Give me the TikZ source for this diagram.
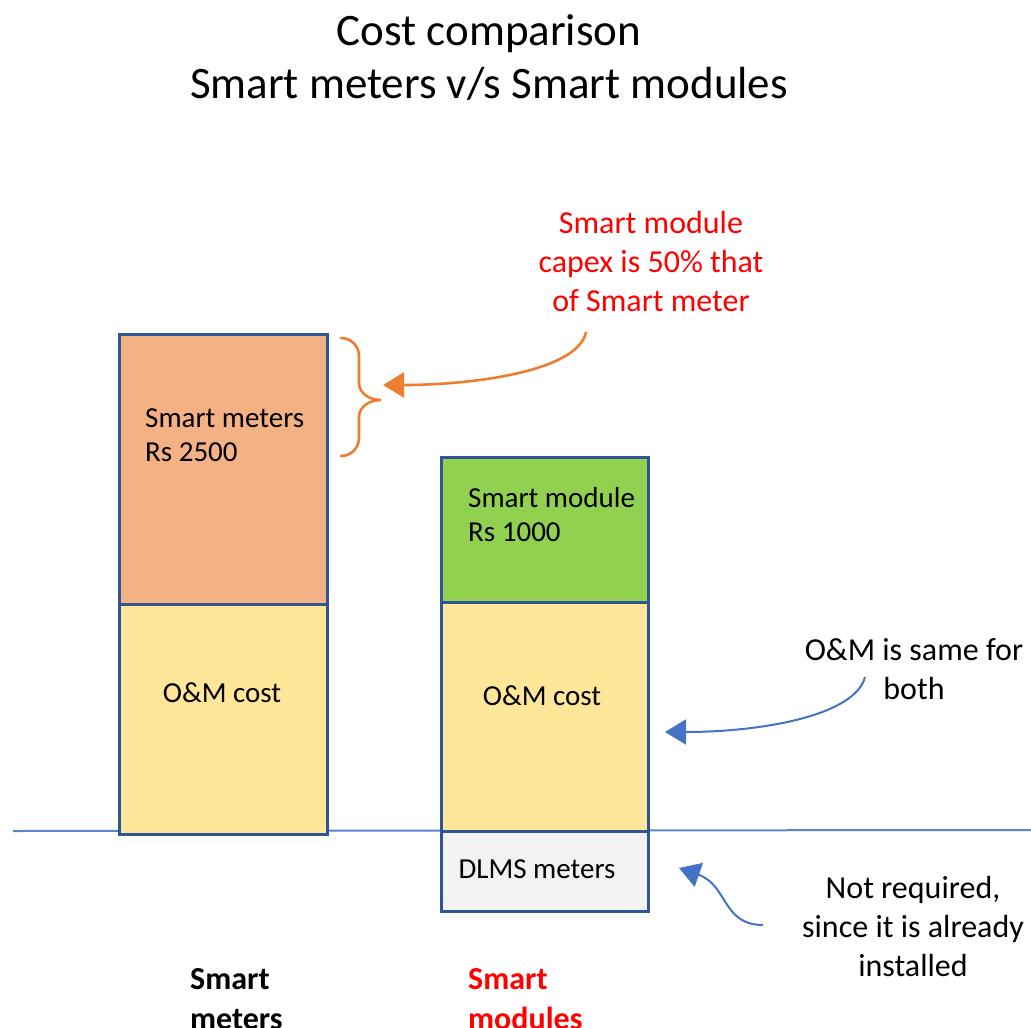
\documentclass[tikz,border=0pt]{standalone}
\usepackage{fontspec}
\setmainfont{Carlito}
\usetikzlibrary{arrows.meta}
\definecolor{barline}{HTML}{2F5597}
\definecolor{capexA}{HTML}{F4B183}
\definecolor{capexB}{HTML}{92D050}
\definecolor{omfill}{HTML}{FFE699}
\definecolor{dlmsfill}{HTML}{F2F2F2}
\definecolor{axisblue}{HTML}{5B84CF}
\definecolor{callblue}{HTML}{4472C4}
\definecolor{callorange}{HTML}{ED7D31}
\definecolor{hired}{HTML}{FF0000}
\tikzset{
  bar/.style={draw=barline, line width=3pt, anchor=north west, inner sep=0pt},
  body/.style={font=\fontsize{29}{34}\selectfont, inner sep=0pt},
  note/.style={font=\fontsize{32}{39}\selectfont, align=center, inner sep=0pt},
  axis/.style={draw=axisblue, line width=2pt},
  bluecall/.style={draw=callblue, line width=2pt, -{Triangle[length=21pt,width=25pt]}},
  orangecall/.style={draw=callorange, line width=2.6pt, -{Triangle[length=21pt,width=25pt]}},
  bracket/.style={draw=callorange, line width=2.6pt, line cap=round},
}
\begin{document}
\begin{tikzpicture}[x=1pt,y=-1pt]
\useasboundingbox (0,0) rectangle (1031,1028);

% title
\node[font=\fontsize{45}{53}\selectfont, align=center, inner sep=0pt] (title) at (489,57)
  {Cost comparison\\Smart meters v/s Smart modules};

% ground line
\coordinate (axisL) at (13,831);
\coordinate (axisR) at (1031,830);
\draw[axis] (axisL) -- (axisR);

% smart meter column
\node[bar, fill=capexA, minimum width=208pt, minimum height=270pt] (meterCap) at (118,333) {};
\node[bar, fill=omfill, minimum width=208pt, minimum height=230pt] (meterOM) at (118,603) {};
\node[body, align=left, anchor=west] (meterCapT) at (145,435) {Smart meters\\Rs 2500};
\node[body] (meterOMT) at (222,693) {O\&M cost};

% smart module column
\node[bar, fill=capexB, minimum width=207pt, minimum height=145pt] (modCap) at (440,456) {};
\node[bar, fill=omfill, minimum width=207pt, minimum height=229pt] (modOM) at (440,601) {};
\node[bar, fill=dlmsfill, minimum width=207pt, minimum height=80pt] (modDLMS) at (440,830) {};
\node[body, align=left, anchor=west] (modCapT) at (468,515) {Smart module\\Rs 1000};
\node[body] (modOMT) at (542,696) {O\&M cost};
\node[body] (modDLMST) at (537,869) {DLMS meters};

% column captions
\node[note, font=\bfseries\fontsize{32}{40}\selectfont, align=left, anchor=west] (capMeter) at (190,999) {Smart\\meters};
\node[note, font=\bfseries\fontsize{32}{40}\selectfont, align=left, anchor=west, text=hired] (capModule) at (468,999) {Smart\\modules};

% annotations
\node[note, text=hired] (noteCapex) at (651,262) {Smart module\\capex is 50\% that\\of Smart meter};
\node[note] (noteOM) at (914,669) {O\&M is same for\\both};
\node[note] (noteDLMS) at (913,926) {Not required,\\since it is already\\installed};

% brace beside the smart meter capex
\coordinate (braceTop) at (341,338);
\coordinate (braceTip) at (381,400);
\coordinate (braceBot) at (341,456);
\draw[bracket] (braceTop) to[out=0,in=90] (359,356) -- (359,383)
  to[out=-90,in=180] (braceTip) to[out=180,in=90] (359,417) -- (359,438)
  to[out=-90,in=0] (braceBot);

% callout arrows
\coordinate (capexFrom) at (586,332);
\coordinate (capexTo) at (383,385);
\draw[orangecall] (capexFrom) .. controls (578,372) and (470,385) .. (capexTo);

\coordinate (omFrom) at (865,677);
\coordinate (omTo) at (665,732);
\draw[bluecall] (omFrom) .. controls (855,716) and (760,732) .. (omTo);

\coordinate (dlmsFrom) at (763,925);
\coordinate (dlmsTo) at (679,868);
\draw[bluecall] (dlmsFrom) .. controls (722,925) and (728,885) .. (dlmsTo);
\end{tikzpicture}
\end{document}
